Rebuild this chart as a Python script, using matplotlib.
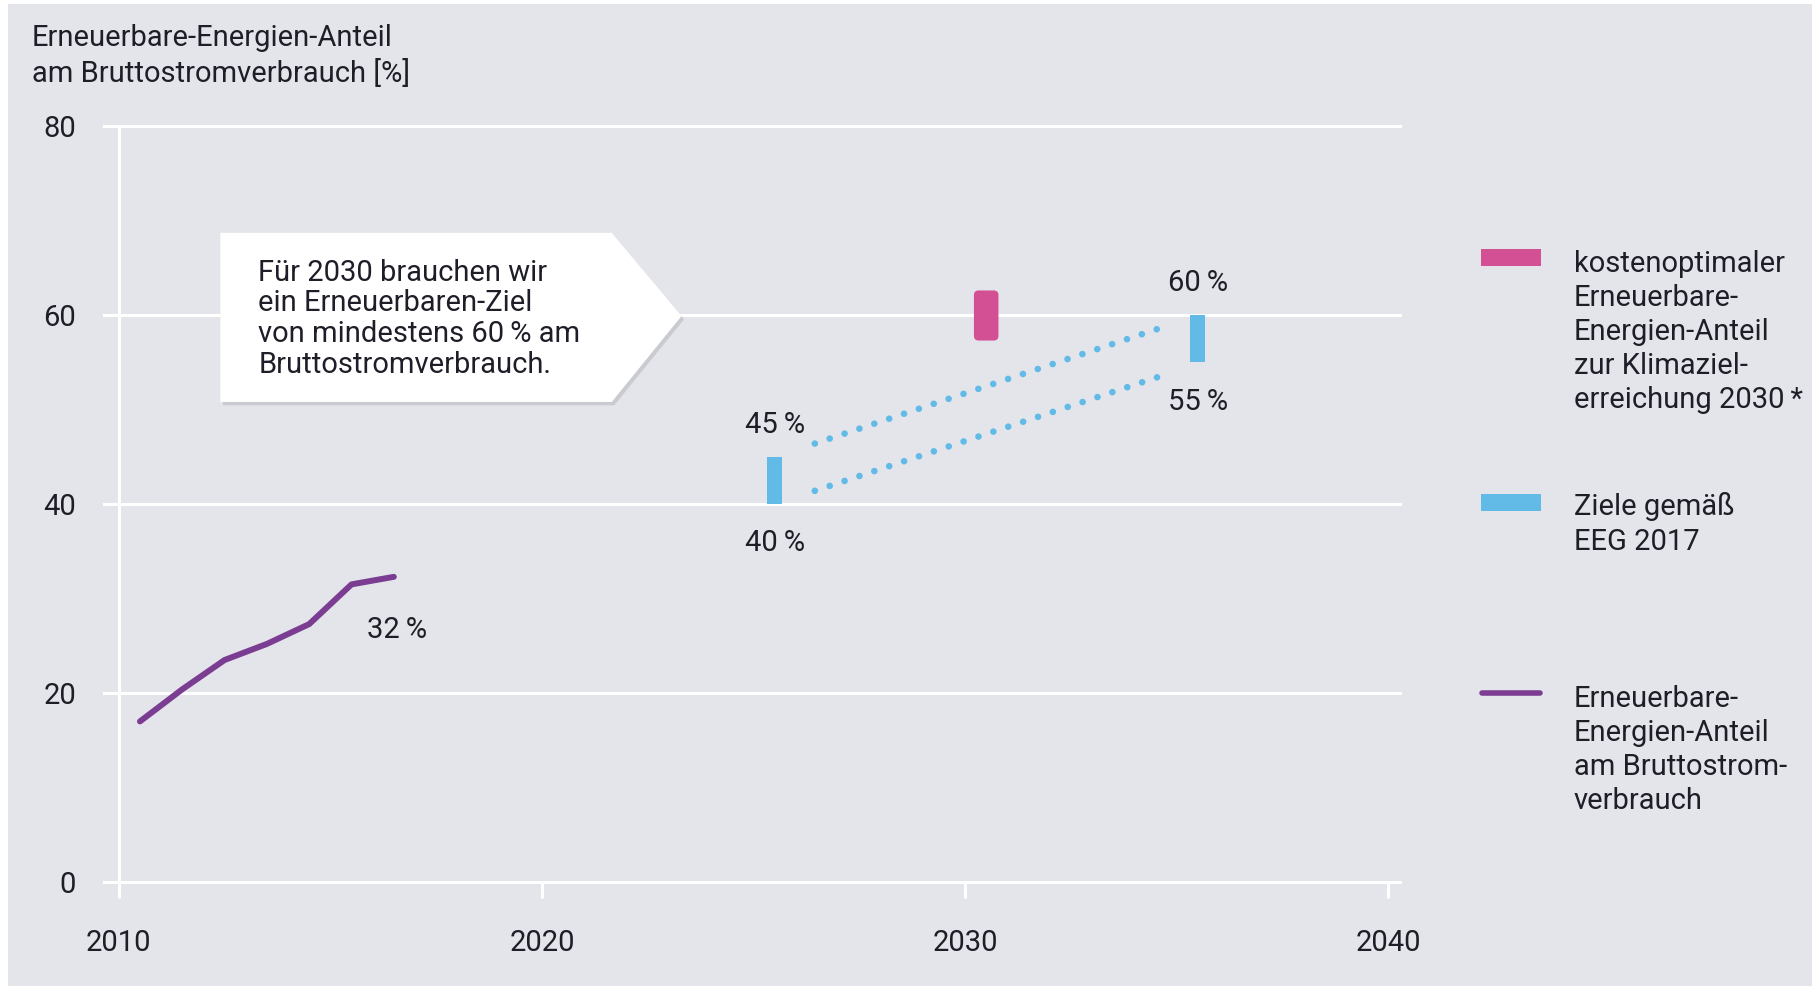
import matplotlib
matplotlib.use("Agg")
import matplotlib.pyplot as plt
from matplotlib.patches import Rectangle, Polygon, FancyBboxPatch
from matplotlib.lines import Line2D

plt.rcParams['font.family'] = ['Roboto', 'DejaVu Sans']

# ---------------- data ----------------
years_hist = [2010.5, 2011.5, 2012.5, 2013.5, 2014.5, 2015.5, 2016.5]
share_hist = [17.0, 20.4, 23.5, 25.2, 27.3, 31.5, 32.3]

eeg_years = [2025.5, 2035.5]
eeg_low = [40, 55]
eeg_high = [45, 60]

opt_year = 2030.5
opt_low = 57.3
opt_high = 62.6

# dotted corridor lines
corr_x = [2026.45, 2034.6]
corr_upper = [46.4, 58.6]
corr_lower = [41.4, 53.5]

yticks = [0, 20, 40, 60, 80]
xticks = [2010, 2020, 2030, 2040]
xticklabels = ['2010', '2020', '2030', '2040']

title = "Erneuerbare-Energien-Anteil\nam Bruttostromverbrauch [%]"
callout = ("Für 2030 brauchen wir\nein Erneuerbaren-Ziel\n"
           "von mindestens 60\u2009% am\nBruttostromverbrauch.")
leg_pink = "kostenoptimaler\nErneuerbare-\nEnergien-Anteil\nzur Klimaziel-\nerreichung 2030\u2009*"
leg_blue = "Ziele gemäß\nEEG 2017"
leg_purple = "Erneuerbare-\nEnergien-Anteil\nam Bruttostrom-\nverbrauch"

# ---------------- style ----------------
BG = '#E4E5EA'
TXT = '#1E1E28'
PINK = '#D35094'
BLUE = '#62BBE7'
PURPLE = '#7B3D92'
FS = 21

W, H = 1812, 986
def fx(px): return px / W
def fy(py): return 1 - py / H

fig = plt.figure(figsize=(W / 100, H / 100), dpi=100)
fig.patch.set_facecolor('white')
fig.patches.append(Rectangle((fx(8), 0), 1 - fx(8), fy(4), transform=fig.transFigure,
                             facecolor=BG, edgecolor='none', zorder=-10))

ax = fig.add_axes([fx(104), fy(901), (1400 - 104) / W, (901 - 126) / H])
ax.set_facecolor('none')
ax.set_xlim(2009.65, 2040.28)
ax.set_ylim(-2, 80)
for s in ax.spines.values():
    s.set_visible(False)

# grid
for y in yticks:
    ax.axhline(y, color='white', lw=2.2, clip_on=False, zorder=0)
ax.vlines(2010, -1.7, 80, color='white', lw=2.2, clip_on=False, zorder=0)
ax.vlines(xticks[1:], -1.7, 0, color='white', lw=2.2, clip_on=False, zorder=0)

ax.set_yticks(yticks)
ax.set_yticklabels([str(v) for v in yticks])
ax.set_xticks(xticks)
ax.set_xticklabels(xticklabels)
ax.tick_params(axis='both', length=0, labelsize=FS, labelcolor=TXT)
ax.tick_params(axis='y', pad=20)
ax.tick_params(axis='x', pad=20)

# history line
ax.plot(years_hist, share_hist, color=PURPLE, lw=4.3, solid_capstyle='round',
        solid_joinstyle='round', zorder=3)

# EEG bars
ax.bar(eeg_years, [h - l for h, l in zip(eeg_high, eeg_low)], bottom=eeg_low,
       width=0.36, color=BLUE, zorder=3)

# cost-optimal bar (rounded)
w = 0.58
ax.add_patch(FancyBboxPatch((opt_year - w / 2, opt_low), w, opt_high - opt_low,
                            boxstyle="round,pad=0,rounding_size=0.11",
                            mutation_aspect=4.48, facecolor=PINK, edgecolor='none', zorder=3))

# dotted corridor
for ys in (corr_upper, corr_lower):
    ax.plot(corr_x, ys, color=BLUE, lw=4.8, linestyle=(0, (0.001, 2.35)),
            dash_capstyle='round', zorder=3)

# value labels
lab_kw = dict(fontsize=FS, color=TXT, ha='center', va='center')
ax.text(2025.5, 48.4, "45\u2009%", **lab_kw)
ax.text(2025.5, 35.9, "40\u2009%", **lab_kw)
ax.text(2035.5, 63.4, "60\u2009%", **lab_kw)
ax.text(2035.5, 50.8, "55\u2009%", **lab_kw)
ax.text(2016.57, 26.7, "32\u2009%", **lab_kw)

# callout box
pts = [(2012.4, 68.7), (2021.65, 68.7), (2023.3, 59.9), (2021.65, 50.8), (2012.4, 50.8)]
shadow = Polygon([(x + 0.06, y - 0.35) for x, y in pts], closed=True,
                 facecolor='#B9BAC0', edgecolor='none', alpha=0.6, zorder=4)
ax.add_patch(shadow)
ax.add_patch(Polygon(pts, closed=True, facecolor='white', edgecolor='none', zorder=5))
ax.text(2013.3, 59.6, callout, fontsize=FS, color=TXT, ha='left', va='center',
        linespacing=1.13, zorder=6)

# title
fig.text(fx(32), fy(56), title, fontsize=FS, color=TXT, ha='left', va='center',
         linespacing=1.28)

# legend
fig.patches.append(Rectangle((fx(1481), fy(266)), 60 / W, 17 / H, transform=fig.transFigure,
                             facecolor=PINK, edgecolor='none'))
fig.patches.append(Rectangle((fx(1481), fy(511)), 60 / W, 17 / H, transform=fig.transFigure,
                             facecolor=BLUE, edgecolor='none'))
fig.lines.append(Line2D([fx(1482), fx(1540)], [fy(693), fy(693)], transform=fig.transFigure,
                        color=PURPLE, lw=4, solid_capstyle='round'))
leg_kw = dict(fontsize=FS, color=TXT, ha='left', va='center', linespacing=1.28)
fig.text(fx(1574), fy(332), leg_pink, **leg_kw)
fig.text(fx(1574), fy(524), leg_blue, **leg_kw)
fig.text(fx(1574), fy(750), leg_purple, **leg_kw)

fig.savefig('out.png', dpi=100, facecolor=fig.get_facecolor())
